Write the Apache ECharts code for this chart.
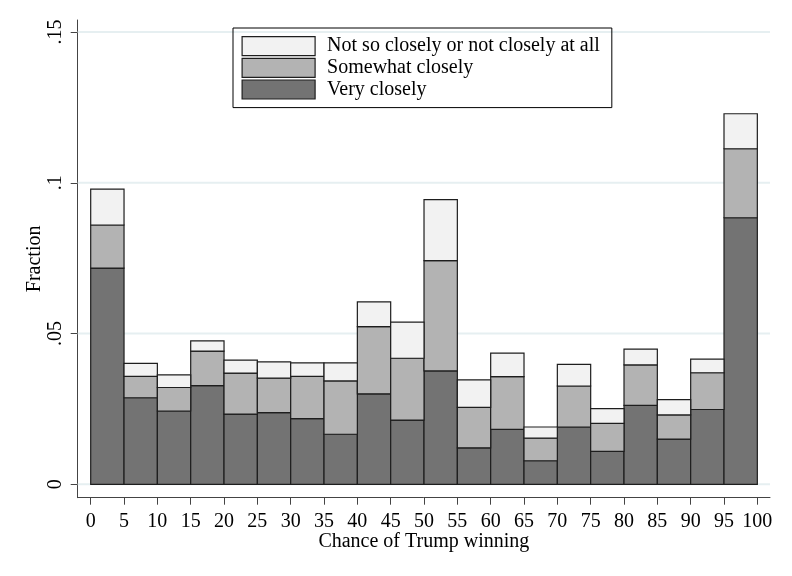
<!DOCTYPE html>
<html>
<head>
<meta charset="utf-8">
<script src="https://cdn.jsdelivr.net/npm/echarts@6/dist/echarts.min.js"></script>
<style>html,body{margin:0;padding:0;background:#fff}#chart{width:792px;height:576px}</style>
</head>
<body>
<div id="chart"></div>
<script>
const binStarts = [0,5,10,15,20,25,30,35,40,45,50,55,60,65,70,75,80,85,90,95];
const binWidth = 5;
const veryClosely     = [0.0717,0.0287,0.0243,0.0327,0.0233,0.0238,0.0218,0.0166,0.0300,0.0213,0.0376,0.0121,0.0182,0.0078,0.0190,0.0109,0.0262,0.0150,0.0248,0.0884];
const somewhatClosely = [0.0143,0.0071,0.0078,0.0115,0.0136,0.0114,0.0140,0.0177,0.0223,0.0205,0.0366,0.0134,0.0175,0.0075,0.0136,0.0093,0.0134,0.0080,0.0122,0.0229];
const notClosely      = [0.0119,0.0043,0.0042,0.0034,0.0043,0.0054,0.0045,0.0060,0.0082,0.0120,0.0202,0.0091,0.0078,0.0037,0.0072,0.0049,0.0052,0.0051,0.0045,0.0116];
const xTicks = [0,5,10,15,20,25,30,35,40,45,50,55,60,65,70,75,80,85,90,95,100];
const yTicks = [0,0.05,0.1,0.15];
const names = ['Very closely','Somewhat closely','Not so closely or not closely at all'];
const colors = ['#737373','#b3b3b3','#f2f2f2'];

const layers = [veryClosely, somewhatClosely, notClosely];
const base = binStarts.map(() => 0);
const seriesData = layers.map(arr => arr.map((v, i) => {
  const b = base[i];
  base[i] = b + v;
  return [binStarts[i], b, b + v];
}));

function renderBar(params, api) {
  const x0 = api.value(0), y0 = api.value(1), y1 = api.value(2);
  const p0 = api.coord([x0, y1]);
  const p1 = api.coord([x0 + binWidth, y0]);
  return {
    type: 'rect',
    shape: {x: p0[0], y: p0[1], width: p1[0] - p0[0], height: p1[1] - p0[1]},
    style: {fill: api.visual('color'), stroke: '#1e1e1e', lineWidth: 1.2}
  };
}

function renderGrid(params, api) {
  const cs = params.coordSys;
  const y = api.coord([0, api.value(0)])[1];
  return {
    type: 'line',
    shape: {x1: cs.x, y1: y, x2: cs.x + cs.width, y2: y},
    style: {stroke: '#e6eff1', lineWidth: 2}
  };
}

const font = 'Liberation Serif, Times New Roman, serif';
const chart = echarts.init(document.getElementById('chart'));
const series = layers.map((arr, k) => ({
  name: names[k],
  type: 'custom',
  renderItem: renderBar,
  data: seriesData[k],
  encode: {x: 0, y: [1, 2]},
  itemStyle: {color: colors[k], borderColor: '#1e1e1e', borderWidth: 1.2},
  z: 3,
  silent: true
}));
series.unshift({
  type: 'custom',
  name: 'grid',
  renderItem: renderGrid,
  data: yTicks.map(v => [v]),
  encode: {y: 0},
  z: 1,
  silent: true
});

chart.setOption({
  animation: false,
  backgroundColor: '#ffffff',
  grid: {left: 77.7, right: 22, top: 20, bottom: 78.3, containLabel: false},
  legend: {
    left: 233, top: 28,
    orient: 'vertical',
    itemWidth: 73, itemHeight: 19, itemGap: 1.5,
    padding: [8, 12, 8, 8.5],
    borderColor: '#000', borderWidth: 1,
    selectedMode: false,
    textStyle: {fontFamily: font, fontSize: 20, color: '#000', padding: [2, 0, 0, 7]},
    data: [
      {name: names[2], icon: 'rect', itemStyle: {color: colors[2], borderColor: '#1e1e1e', borderWidth: 1.2}},
      {name: names[1], icon: 'rect', itemStyle: {color: colors[1], borderColor: '#1e1e1e', borderWidth: 1.2}},
      {name: names[0], icon: 'rect', itemStyle: {color: colors[0], borderColor: '#1e1e1e', borderWidth: 1.2}}
    ]
  },
  xAxis: {
    type: 'value',
    min: -1.95, max: 101.9,
    name: 'Chance of Trump winning',
    nameLocation: 'middle',
    nameGap: 34,
    nameMoveOverlap: false,
    nameTextStyle: {fontFamily: font, fontSize: 20, color: '#000'},
    axisLine: {show: true, onZero: false, lineStyle: {color: '#444', width: 1}},
    axisTick: {show: true, length: 7, customValues: xTicks, lineStyle: {color: '#444'}},
    axisLabel: {customValues: xTicks, margin: 14, fontFamily: font, fontSize: 20, color: '#000'},
    splitLine: {show: false}
  },
  yAxis: {
    type: 'value',
    min: -0.00445, max: 0.154,
    name: 'Fraction',
    nameLocation: 'middle',
    nameGap: 33,
    nameMoveOverlap: false,
    nameRotate: 90,
    nameTextStyle: {fontFamily: font, fontSize: 20, color: '#000'},
    axisLine: {show: true, onZero: false, lineStyle: {color: '#444', width: 1}},
    axisTick: {show: true, length: 7, customValues: yTicks, lineStyle: {color: '#444'}},
    axisLabel: {
      customValues: yTicks, rotate: 90, margin: 12,
      fontFamily: font, fontSize: 20, color: '#000',
      formatter: v => v === 0 ? '0' : String(v).replace(/^0/, '')
    },
    splitLine: {show: false}
  },
  series: series
});
</script>
</body>
</html>
